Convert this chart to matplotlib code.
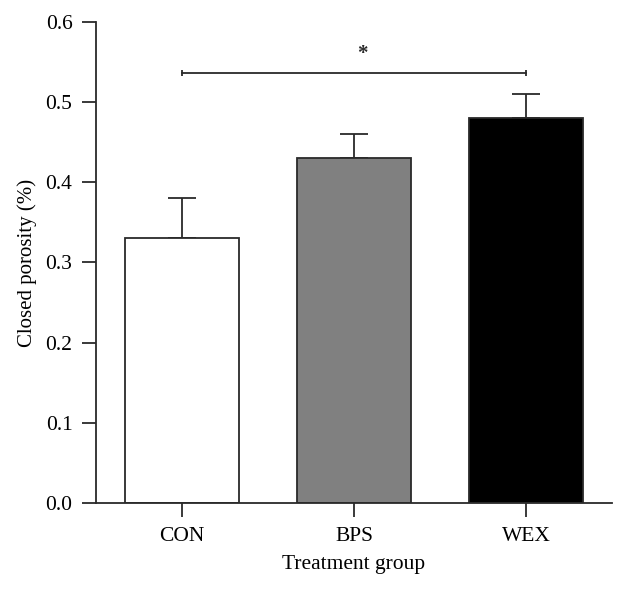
import matplotlib.pyplot as plt

groups = ["CON", "BPS", "WEX"]
means = [0.33, 0.43, 0.48]
errors = [0.05, 0.03, 0.03]
colors = ["white", "#808080", "black"]
sig_pair = (0, 2)
sig_height = 0.536
sig_label = "*"

plt.rcParams['font.family'] = ['Liberation Serif', 'DejaVu Serif']

fig = plt.figure(figsize=(6.26, 5.90), dpi=100)
ax = fig.add_axes([0.1534, 0.1475, 0.8243, 0.8153])

x = list(range(len(groups)))
line_col = "#2a2a2a"
lw = 1.3

ax.errorbar(x, means, yerr=[[0] * len(errors), errors], fmt="none",
            ecolor=line_col, elinewidth=lw, capsize=10.4, capthick=lw, zorder=1)
ax.bar(x, means, width=0.667, color=colors, edgecolor=line_col, linewidth=lw, zorder=2)

# significance bracket
a, b = sig_pair
ax.plot([a, b], [sig_height, sig_height], color=line_col, lw=lw,
        marker="|", markersize=5, markeredgewidth=lw)
ax.text((a + b) / 2 + 0.05, sig_height + 0.011, sig_label, ha="center", va="bottom",
        fontsize=15, fontweight="bold", color=line_col)

ax.set_xlim(-0.5, 2.5)
ax.set_ylim(0, 0.6)
ax.set_yticks([0.0, 0.1, 0.2, 0.3, 0.4, 0.5, 0.6])
ax.set_yticklabels(["0.0", "0.1", "0.2", "0.3", "0.4", "0.5", "0.6"])
ax.set_xticks(x)
ax.set_xticklabels(groups)

ax.spines["top"].set_visible(False)
ax.spines["right"].set_visible(False)
for s in ["left", "bottom"]:
    ax.spines[s].set_linewidth(lw)
    ax.spines[s].set_color(line_col)
ax.tick_params(axis="both", length=10, width=lw, color=line_col, labelsize=15.5, pad=7)

ax.set_xlabel("Treatment group", fontsize=15.5, labelpad=7)
ax.set_ylabel("Closed porosity (%)", fontsize=15, labelpad=6)

fig.savefig("out.png", dpi=100)
